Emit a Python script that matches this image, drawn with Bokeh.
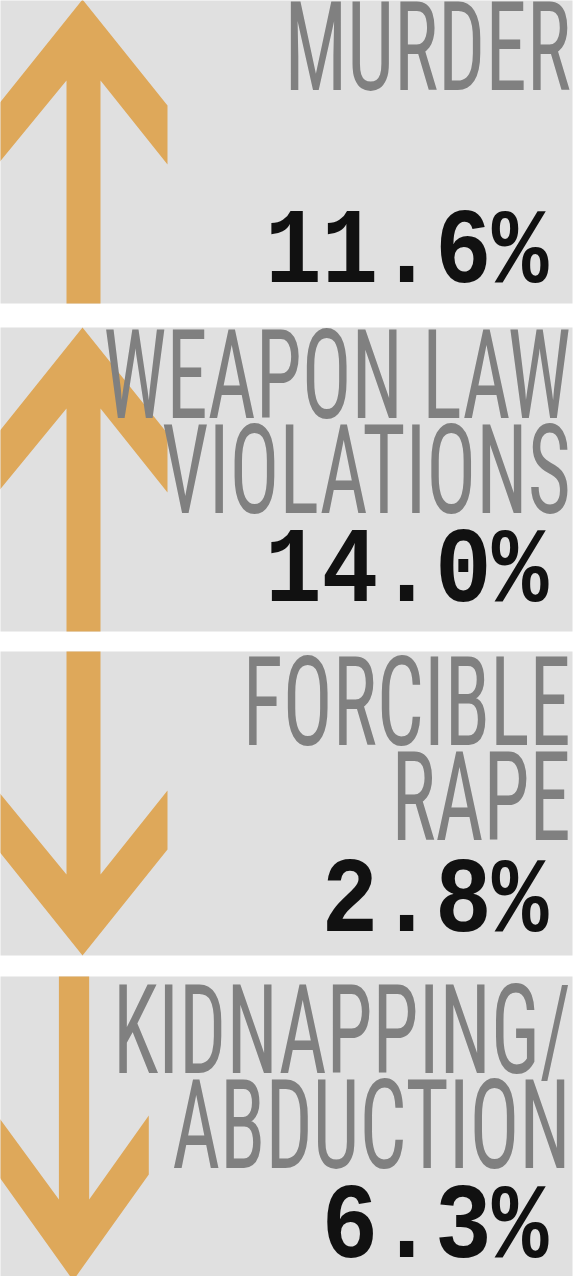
from bokeh.plotting import figure
from bokeh.layouts import column
from bokeh.models import Range1d
from bokeh.embed import file_html
from bokeh.resources import INLINE
from bokeh.core.properties import value

# ---- data ----
label_lines = [["MURDER"], ["WEAPON LAW", "VIOLATIONS"], ["FORCIBLE", "RAPE"], ["KIDNAPPING/", "ABDUCTION"]]
changes = [11.6, 14.0, -2.8, -6.3]          # percent change; sign gives arrow direction
value_labels = [f"{abs(c):.1f}%" for c in changes]

# ---- layout / style ----
PANEL_TOPS = [7, 335, 659, 984]
PANEL_H = 304
PANEL_L, PANEL_R = 5, 580
ARROW_XSCALE = [1.0, 1.0, 1.0, 0.89]
LABEL_BASE = [97, 425, 752, 1080]
LINE_GAP = 95
NUM_BASE = [293, 612, 942, 1268]
GRAY = "#e0e0e0"
ORANGE = "#dea85a"
LABEL_GRAY = "#808080"
SX_LAB = 0.67        # horizontal squeeze of the label layer
SX_NUM = 0.875       # horizontal squeeze of the value layer
BASE_FIX_LAB = 42    # renderer baseline offset compensation
BASE_FIX_NUM = 32
W, H = 574, 1276


def base_fig(width, **kw):
    f = figure(width=width, height=H, x_range=Range1d(8, 582), y_range=Range1d(1284, 8),
               output_backend="svg", toolbar_location=None, min_border=0, **kw)
    f.axis.visible = False
    f.grid.visible = False
    f.outline_line_color = None
    return f


def squeezed_layer(sx):
    lw = int(round(W / sx ** 2))
    f = base_fig(lw, styles={"transform": f"scaleX({sx})", "transform-origin": "0 0",
                             "width": f"{lw}px", "min-width": f"{lw}px", "max-width": "none",
                             "flex": "none"})
    f.background_fill_color = None
    f.border_fill_color = None
    wrap = column(f, styles={"position": "absolute", "top": "0px", "left": "0px",
                             "width": f"{W}px", "height": f"{H}px", "overflow": "hidden",
                             "pointer-events": "none"})
    return f, wrap


p = base_fig(W)
p.background_fill_color = "white"
p.border_fill_color = "white"

# panels
p.quad(left=[PANEL_L] * 4, right=[PANEL_R] * 4, top=PANEL_TOPS,
       bottom=[t + PANEL_H for t in PANEL_TOPS], fill_color=GRAY, line_color=None)

# arrows (shape relative to panel top, up-pointing)
up_x = [90, 175, 175, 108, 108, 74, 74, 5, 5]
up_y = [0, 106, 165, 81, PANEL_H, PANEL_H, 81, 165, 106]
xs, ys = [], []
for t, c, k in zip(PANEL_TOPS, changes, ARROW_XSCALE):
    xs.append([PANEL_L + (x - PANEL_L) * k for x in up_x])
    if c >= 0:
        ys.append([t + y for y in up_y])
    else:
        ys.append([t + PANEL_H - y for y in up_y])
p.patches(xs=xs, ys=ys, fill_color=ORANGE, line_color=None)

# category labels (condensed headline look)
lab, lab_wrap = squeezed_layer(SX_LAB)
lx, ly, lt = [], [], []
for b, lines in zip(LABEL_BASE, label_lines):
    for k, line in enumerate(lines):
        lx.append(579)
        ly.append(b + k * LINE_GAP - BASE_FIX_LAB)
        lt.append(line)
lab.text(x=lx, y=ly, text=lt, text_align="right", text_baseline="alphabetic",
         text_font=value("Roboto Condensed"), text_font_size="124px", text_color=LABEL_GRAY)

# values
num, num_wrap = squeezed_layer(SX_NUM)
num.text(x=[556] * 4, y=[b - BASE_FIX_NUM for b in NUM_BASE], text=value_labels,
         text_align="right", text_baseline="alphabetic",
         text_font=value("Liberation Mono"), text_font_style="bold",
         text_font_size="108px", text_color="#111111")

layout = column(p, lab_wrap, num_wrap, styles={"position": "relative", "overflow": "hidden",
                                               "width": f"{W}px", "height": f"{H}px"})
open("out.html", "w").write(file_html(layout, INLINE))
